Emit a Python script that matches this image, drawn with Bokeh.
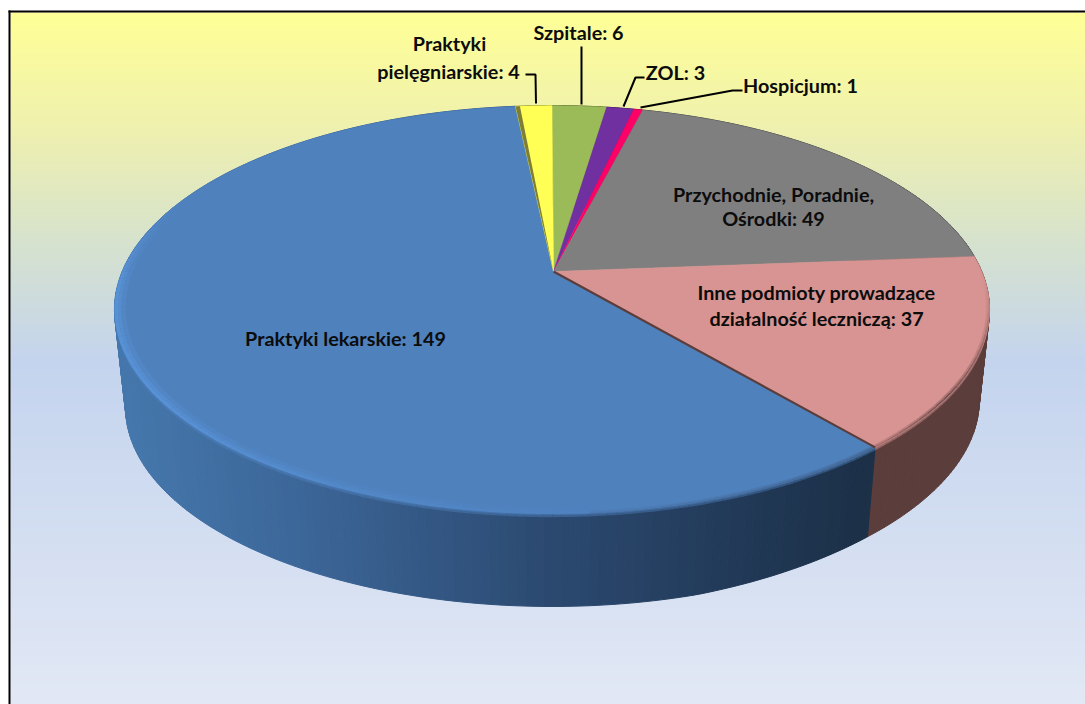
import numpy as np
from bokeh.plotting import figure
from bokeh.models import ColumnDataSource
from bokeh.core.properties import value
from bokeh.embed import file_html
from bokeh.resources import INLINE

# ---- data (clockwise from 12 o'clock) ----
categories = ["Szpitale", "ZOL", "Hospicjum", "Przychodnie, Poradnie, Ośrodki",
              "Inne podmioty prowadzące działalność leczniczą", "Praktyki lekarskie",
              "Praktyki pielęgniarskie"]
values = [6, 3, 1, 49, 37, 149, 4]
top_colors = ["#9BBB59", "#7030A0", "#FF0066", "#7F7F7F", "#D89492", "#4F81BD", "#FFFF55"]

label_lines = ["Praktyki", "pielęgniarskie: 4", "Szpitale: 6", "ZOL: 3", "Hospicjum: 1",
               "Przychodnie, Poradnie,", "Ośrodki: 49",
               "Inne podmioty prowadzące", "działalność leczniczą: 37",
               "Praktyki lekarskie: 149"]
label_x = [449, 448, 578, 675, 800, 773, 773, 816, 816, 345]
label_y = [42, 70, 31, 71, 84, 193, 217, 291, 317, 337]

leader_x = [[525, 535, 535.5], [581, 581], [644, 635, 623], [742, 732, 640]]
leader_y = [[74, 74, 103], [46, 104], [77, 77, 106], [90, 90, 107]]

bg_stop_y = [12, 130, 240, 360, 500, 704]
bg_stop_rgb = [(255, 255, 150), (238, 240, 175), (214, 226, 205), (196, 212, 238),
               (208, 220, 240), (226, 232, 245)]

# ---- projection of the disc ----
CX, CY = 551.5, 271.0
APEX_X = 553.0
A, B, K = 429.8, 197.0, 0.1874
VX, VY = 552.0, 4157.0


def proj(deg, r=1.0):
    t = np.radians(deg)
    X, Y = r * np.sin(t), r * np.cos(t)
    w = 1 + K * Y
    return CX + A * X / w, CY - B * Y / w


def drop(x, y, f=1.0):
    d = np.interp(x, [700, 875, 1000], [0.0254, 0.0241, 0.0235])
    return x + f * d * (VX - x), y + f * d * (VY - y)


def hexc(rgb):
    return "#%02x%02x%02x" % tuple(int(round(max(0, min(255, c)))) for c in rgb)


def rgb(h):
    h = h.lstrip("#")
    return tuple(int(h[i:i + 2], 16) for i in (0, 2, 4))


def mix(a, b, t):
    return tuple(a[i] + (b[i] - a[i]) * t for i in range(3))


p = figure(width=1085, height=704, x_range=(0, 1085), y_range=(704, 0),
           output_backend="svg", toolbar_location=None, min_border=0,
           x_axis_type=None, y_axis_type=None, background_fill_color="white",
           outline_line_color=None)
p.grid.visible = False

# background gradient
ys = np.arange(12, 704, 2)
cols = [hexc(tuple(np.interp(y, bg_stop_y, [c[i] for c in bg_stop_rgb]) for i in range(3))) for y in ys]
p.quad(left=10, right=1085, top=ys, bottom=ys + 2.5, fill_color=cols, line_color=None)
p.quad(left=[8, 8], right=[10, 1085], top=[10, 10], bottom=[704, 12], fill_color="black", line_color=None)

cum = np.concatenate([[0], np.cumsum(values)]) / sum(values) * 360.0
# the rendered 3-D view is slightly non-uniform around the lower right
cum = cum + 1.1 * np.exp(-((cum - 139.0) / 45.0) ** 2)

# side wall
sxs, sys, sc = [], [], []
blue_side_x = [120, 300, 550, 860]
blue_side_rgb = [(69, 119, 172), (60, 102, 152), (43, 73, 112), (28, 48, 72)]
soft_x, soft_y, soft_c = [], [], []
for i, col in enumerate(top_colors):
    a0, a1 = cum[i], cum[i + 1]
    n = max(2, int((a1 - a0) / 1.0))
    edges = np.linspace(a0, a1, n + 1)
    for e0, e1 in zip(edges[:-1], edges[1:]):
        x0, y0 = proj(e0)
        x1, y1 = proj(e1)
        bx0, by0 = drop(x0, y0)
        bx1, by1 = drop(x1, y1)
        if categories[i] == "Praktyki lekarskie":
            xm = (x0 + x1) / 2
            c = tuple(np.interp(xm, blue_side_x, [q[k] for q in blue_side_rgb]) for k in range(3))
        elif i == 4:
            c = (91, 61, 59)
        else:
            c = mix(rgb(col), (0, 0, 0), 0.6)
        sxs.append([x0, x1, bx1, bx0])
        sys.append([y0, y1, by1, by0])
        sc.append(hexc(c))
        if 100 < (e0 + e1) / 2 < 285:
            for f, m in ((0.035, 0.55), (0.015, 0.8)):
                mx0, my0 = drop(x0, y0, f)
                mx1, my1 = drop(x1, y1, f)
                soft_x.append([x0, x1, mx1, mx0])
                soft_y.append([y0, y1, my1, my0])
                soft_c.append(hexc(mix(c, rgb(col), m * 0.8)))
p.patches(sxs, sys, fill_color=sc, line_color=sc, line_width=1)
p.patches(soft_x, soft_y, fill_color=soft_c, line_color=None)

# top face
txs, tys = [], []
for i in range(len(values)):
    arc = np.linspace(cum[i], cum[i + 1], max(3, int(cum[i + 1] - cum[i]) * 2))
    ax, ay = proj(arc)
    txs.append([APEX_X] + list(ax))
    tys.append([CY] + list(ay))
p.patches(txs, tys, fill_color=top_colors, line_color=top_colors, line_width=0.5)

# bevel: light on lower left, dark on the right
bx, by, bc = [], [], []
for i, col in enumerate(top_colors):
    base = rgb(col)
    light = (88, 146, 214)
    dark = mix(base, (50, 35, 35), 0.7)
    edges = np.arange(cum[i], cum[i + 1], 2.0)
    edges = np.append(edges, cum[i + 1])
    for e0, e1 in zip(edges[:-1], edges[1:]):
        m = (e0 + e1) / 2
        if 175 < m < 292:
            s = np.interp(m, [175, 235, 265, 292], [0, 1, 1, 0])
            for r0, r1, f in ((0.975, 0.985, 0.3), (0.985, 0.992, 0.7), (0.992, 1.0, 1.0)):
                ox0, oy0 = proj(e0, r1)
                ox1, oy1 = proj(e1, r1)
                ix0, iy0 = proj(e0, r0)
                ix1, iy1 = proj(e1, r0)
                bx.append([ox0, ox1, ix1, ix0])
                by.append([oy0, oy1, iy1, iy0])
                bc.append(hexc(mix(base, light, s * f)))
        elif 92 < m <= 185:
            s = np.interp(m, [92, 125, 140, 185], [0, 1, 0.5, 0])
            for r0, r1, f in ((0.992, 0.996, 0.4), (0.996, 1.0, 0.9)):
                ox0, oy0 = proj(e0, r1)
                ox1, oy1 = proj(e1, r1)
                ix0, iy0 = proj(e0, r0)
                ix1, iy1 = proj(e1, r0)
                bx.append([ox0, ox1, ix1, ix0])
                by.append([oy0, oy1, iy1, iy0])
                bc.append(hexc(mix(base, dark, s * f)))
p.patches(bx, by, fill_color=bc, line_color=None)

# slice boundary marks: dark line pink/blue, olive sliver left of yellow
bnd = cum[5]
ex, ey = proj(bnd)
p.line([APEX_X, ex], [CY, ey], line_color="#5B3D3B", line_width=2.2)
sl = np.array([cum[6], cum[6] + 0.7])
slx, sly = proj(sl)
p.patch([APEX_X] + list(slx), [CY] + list(sly), fill_color="#7E7E36", line_color=None)

# leader lines
p.multi_line(leader_x, leader_y, line_color="black", line_width=2)

# labels
src = ColumnDataSource(dict(x=label_x, y=label_y, t=label_lines))
p.text("x", "y", text="t", source=src, text_font=value("Lato"), text_font_style="bold",
       text_font_size="19.8px", text_color="#0c0c0c", text_align="center", text_baseline="middle")

open("out.html", "w").write(file_html(p, INLINE))
